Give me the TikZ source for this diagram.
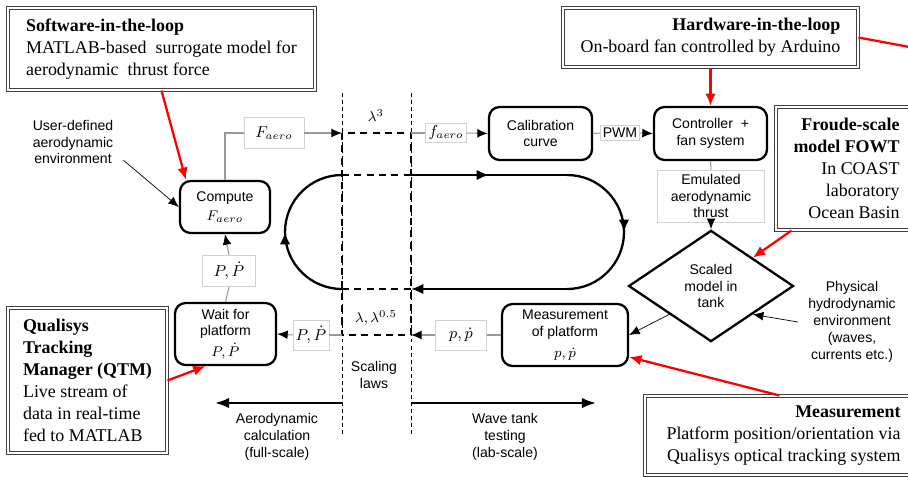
\documentclass[tikz,border=0pt]{standalone}
\usepackage{fontspec}
\setmainfont{Liberation Serif}
\setsansfont{Liberation Sans}
\usetikzlibrary{calc,arrows.meta,positioning,shapes.geometric,decorations.markings}

\begin{document}
\begin{tikzpicture}[x=0.02cm,y=-0.02cm]

  % Parameters
  \def\xl{342}   % left scaling line
  \def\xr{411}   % right scaling line
  \def\ytop{175}
  \def\ybot{289}
  \def\rad{57}

  % Styles
  \tikzstyle{blk}=[draw,line width=1.3pt,rounded corners=6pt,font=\fontsize{8}{9.6}\selectfont\sffamily,align=center,inner sep=2pt]
  \tikzstyle{lbl}=[draw=gray!35,fill=white,line width=0.5pt,font=\fontsize{9}{10.8}\selectfont\sffamily,align=center,inner sep=1.5pt]
  \tikzstyle{note}=[font=\fontsize{8}{9.6}\selectfont\sffamily,align=center,inner sep=0pt]
  \tikzstyle{info}=[draw=black!75,double=white,double distance=1.2pt,line width=0.6pt,font=\fontsize{10.2}{12.5}\selectfont,inner sep=0pt]
  \tikzstyle{wire}=[draw=gray!80,line width=0.6pt]
  \tikzstyle{conn}=[wire,-{Latex[color=black,length=6pt,width=5pt]}]
  \tikzstyle{fine}=[line width=0.4pt,-{Latex[length=6pt,width=5pt]}]
  \tikzstyle{hint}=[red,line width=1.3pt,-{Latex[length=7pt,width=6pt]}]
  \tikzstyle{cycleline}=[line width=1.3pt]
  \tikzstyle{scl}=[line width=1.1pt,dash pattern=on 4pt off 3pt]
  \tikzstyle{guide}=[line width=0.4pt,dash pattern=on 2pt off 2pt]
  \tikzstyle{midarrow}=[postaction={decorate},decoration={markings,mark=at position 0.5 with {\arrow{Latex[length=7pt,width=6pt]}}}]
  \tikzstyle{dirarrow}=[line width=1.3pt,-{Latex[length=8pt,width=6pt]}]

  \useasboundingbox (0,0) rectangle (908,477);

  % ===========================================================================

  % Draw info boxes
  \node[info,align=left,minimum width=6.14cm,minimum height=1.64cm] (sil) at (161.5,49)
    {\textbf{Software-in-the-loop}\\MATLAB-based\ \ surrogate model for\\aerodynamic\ \ thrust force};
  \node[info,align=right,minimum width=5.9cm,minimum height=1.18cm] (hil) at (710.5,37.5)
    {\textbf{Hardware-in-the-loop}\\On-board fan controlled by Arduino};
  \node[info,align=right,minimum width=2.82cm,minimum height=2.46cm] (fowt) at (846.5,168.5)
    {\textbf{Froude-scale}\\\textbf{model FOWT}\\In COAST\\laboratory\\Ocean Basin};
  \node[info,align=left,minimum width=3.18cm,minimum height=2.9cm] (qtm) at (87.5,380.5)
    {\textbf{Qualisys}\\\textbf{Tracking}\\\textbf{Manager (QTM)}\\Live stream of\\data in real-time\\fed to MATLAB};
  \node[info,align=right,minimum width=5.54cm,minimum height=1.58cm] (msr) at (783.5,435.5)
    {\textbf{Measurement}\\Platform position/orientation via\\Qualisys optical tracking system};

  % Draw process blocks
  \node[blk,minimum width=1.8cm,minimum height=1.04cm] (compute) at (225,207) {Compute\\[1pt]$F_{aero}$};
  \node[blk,minimum width=2.02cm,minimum height=1.24cm] (wait) at (225.5,334) {Wait for\\platform\\[2pt]$P,\dot{P}$};
  \node[blk,minimum width=2.06cm,minimum height=1.06cm] (calib) at (540.5,133.5) {Calibration\\curve};
  \node[blk,minimum width=2.26cm,minimum height=1.06cm] (ctrl) at (710.5,133.5) {Controller\ \ +\\fan system};
  \node[blk,minimum width=2.52cm,minimum height=1.24cm] (meas) at (565,335) {Measurement\\of platform\\[2pt]$p,\dot{p}$};
  \node[blk,diamond,sharp corners,minimum width=3.3cm,minimum height=2cm] (tank) at (711,286) {Scaled\\model in\\tank};

  % Draw signal labels
  \node[lbl,minimum width=1.2cm,minimum height=0.62cm] (faero) at (274,133) {$F_{aero}$};
  \node[lbl] (faerolab) at (446,133) {$f_{aero}$};
  \node[lbl,font=\fontsize{8}{9.6}\selectfont\sffamily] (pwm) at (620,133) {PWM};
  \node[lbl,font=\fontsize{8}{9.6}\selectfont\sffamily,minimum width=2.14cm,minimum height=1.04cm] (thrust) at (711,196) {Emulated\\aerodynamic\\thrust};
  \node[lbl,minimum width=1.02cm,minimum height=0.6cm] (pmeas) at (461,335) {$p,\dot{p}$};
  \node[lbl,minimum width=0.62cm,minimum height=0.6cm] (pfull) at (311,335) {$P,\dot{P}$};
  \node[lbl,minimum width=1.06cm,minimum height=0.62cm] (pup) at (229,271) {$P,\dot{P}$};

  % Scaling laws
  \coordinate (lam3l) at (\xl,133);
  \coordinate (lam3r) at (\xr,133);
  \coordinate (lam05l) at (\xl,335);
  \coordinate (lam05r) at (\xr,335);
  \draw[guide] (\xl,93) -- (\xl,437);
  \draw[guide] (\xr,93) -- (\xr,437);
  \draw[scl] (lam3l) rectangle (lam05r);
  \draw[scl] (\xl,\ytop) -- (\xr,\ytop);
  \draw[scl] (\xl,\ybot) -- (\xr,\ybot);
  \node[note] (lam3) at (376,116) {$\lambda^3$};
  \node[note] (lam05) at (376,318) {$\lambda,\lambda^{0.5}$};
  \node[note] (scaling) at (374,375) {Scaling\\laws};

  % Draw signal flow
  \draw[wire] (compute.north) |- (faero.west);
  \draw[conn] (faero.east) -- (lam3l);
  \draw[wire] (lam3r) -- (faerolab.west);
  \draw[conn] (faerolab.east) -- (calib.west);
  \draw[wire] (calib.east) -- (pwm.west);
  \draw[conn] (pwm.east) -- (ctrl.west);
  \draw[wire] (ctrl.south) -- (thrust.north);
  \draw[conn] (thrust.south) -- (tank.north);
  \draw[wire] (meas.west) -- (pmeas.east);
  \draw[conn] (pmeas.west) -- (lam05r);
  \draw[wire] (lam05l) -- (pfull.east);
  \draw[conn] (pfull.west) -- (wait.east);
  \draw[wire] (wait.north) -- (pup.south);
  \draw[conn] (pup.north) -- (compute.south);

  % Draw loop
  \draw[cycleline,midarrow] (\xr,\ytop) -- (567,\ytop);
  \draw[cycleline,midarrow] (567,\ytop) arc[start angle=-90,end angle=90,radius=\rad];
  \draw[cycleline,-{Latex[length=7pt,width=6pt]}] (567,\ybot) -- (\xr,\ybot);
  \draw[cycleline,midarrow] (\xl,\ybot) arc[start angle=90,end angle=270,radius=\rad];

  % Environments
  \node[note] (userenv) at (73,142) {User-defined\\aerodynamic\\environment};
  \node[note] (physenv) at (852,322) {Physical\\hydrodynamic\\environment\\(waves,\\currents etc.)};
  \draw[fine] ($(userenv.south east)+(10,-4)$) -- (compute.west);
  \draw[fine] ($(physenv.west)+(-10,0)$) -- (tank.south east);
  \draw[fine] (tank.south west) -- (meas.east);

  % Full-scale / lab-scale
  \coordinate (aeroend) at (215,403);
  \coordinate (waveend) at (596,403);
  \draw[dirarrow] (\xl,403) -- (aeroend);
  \draw[dirarrow] (\xr,403) -- (waveend);
  \node[note] (aerocalc) at (277,437) {Aerodynamic\\calculation\\(full-scale)};
  \node[note] (wavetest) at (505,437) {Wave tank\\testing\\(lab-scale)};

  % Red pointers
  \coordinate (hilout) at (912,47.5);
  \draw[hint] (sil.south) -- ($(compute.north west)+(7,0)$);
  \draw[hint] (hil.south) -- (ctrl.north);
  \draw[hint] ($(fowt.south west)+(16,0)$) -- (tank.north east);
  \draw[hint] (qtm.east) -- ($(wait.south)+(-20,0)$);
  \draw[hint] ($(msr.north west)+(135,0)$) -- ($(meas.east)+(0,22)$);
  \draw[red,line width=1.3pt] (hil.east) -- (hilout);

\end{tikzpicture}
\end{document}
